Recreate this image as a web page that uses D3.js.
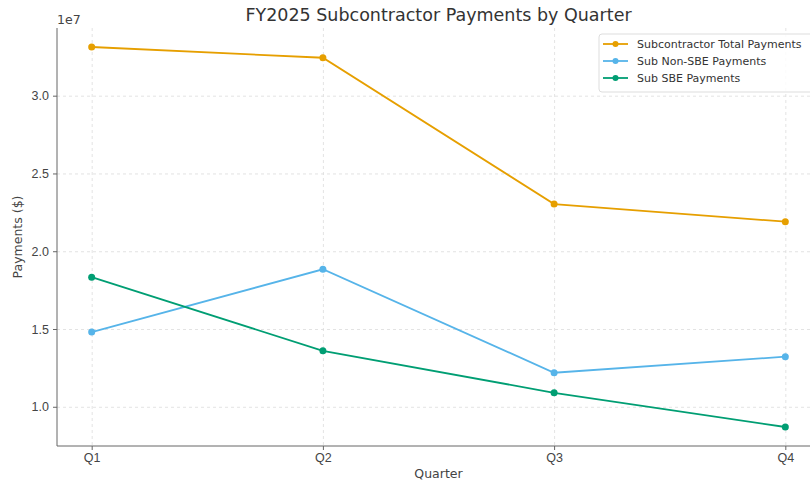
<!DOCTYPE html>
<html>
<head>
<meta charset="utf-8">
<script src="https://cdn.jsdelivr.net/npm/d3@7"></script>
<style>
  body { margin: 0; background: #fff; }
  svg { font-family: "DejaVu Sans", sans-serif; display: block; }
  .grid line { stroke: #dcdcdc; stroke-dasharray: 3,3; stroke-width: 0.8; }
  .grid .domain { display: none; }
  .axis .domain, .axis line { stroke: #666; }
  .axis text { fill: #444; font-size: 12.5px; }
</style>
</head>
<body>
<div id="chart"></div>
<script>
// Data
const quarters = ['Q1', 'Q2', 'Q3', 'Q4'];
const totalPayments = [33130000, 32440000, 23030000, 21900000];
const nonSbePayments = [14800000, 18840000, 12190000, 13220000];
const sbePayments = [18330000, 13600000, 10900000, 8700000];
const yTicks = [10000000, 15000000, 20000000, 25000000, 30000000];

const series = [
    { name: 'Subcontractor Total Payments', values: totalPayments, color: '#E69F00' },
    { name: 'Sub Non-SBE Payments', values: nonSbePayments, color: '#56B4E9' },
    { name: 'Sub SBE Payments', values: sbePayments, color: '#009E73' }
];

const W = 810, H = 484;
const margin = { top: 28, right: -10, bottom: 38, left: 57 };
const width = W - margin.left - margin.right;
const height = H - margin.top - margin.bottom;

const svg = d3.select('#chart').append('svg')
    .attr('width', W)
    .attr('height', H);

const g = svg.append('g')
    .attr('transform', `translate(${margin.left},${margin.top})`);

// x: point positions with matplotlib-like 5% margins
const xi = d3.scaleLinear().domain([-0.15, 3.15]).range([0, width]);

const allVals = series.flatMap(s => s.values);
const yMin = d3.min(allVals), yMax = d3.max(allVals);
const pad = (yMax - yMin) * 0.05;
const y = d3.scaleLinear()
    .domain([yMin - pad, yMax + pad])
    .range([height, 0]);

// grid
g.append('g').attr('class', 'grid')
    .call(d3.axisLeft(y).tickValues(yTicks).tickSize(-width).tickFormat(''));
g.append('g').attr('class', 'grid')
    .call(d3.axisBottom(xi).tickValues(d3.range(quarters.length)).tickSize(height).tickFormat(''));

// axes
const xAxis = g.append('g').attr('class', 'axis')
    .attr('transform', `translate(0,${height})`)
    .call(d3.axisBottom(xi).tickValues(d3.range(quarters.length))
        .tickFormat(i => quarters[i]).tickSize(4).tickSizeOuter(0).tickPadding(3));

const yAxis = g.append('g').attr('class', 'axis')
    .call(d3.axisLeft(y).tickValues(yTicks)
        .tickFormat(v => (v / 1e7).toFixed(1)).tickSize(4).tickSizeOuter(0).tickPadding(4));
yAxis.select('.domain').attr('d', `M0,${height}V0`);
xAxis.select('.domain').attr('d', `M0,0H${width}`);

// lines
const line = d3.line()
    .x((d, i) => xi(i))
    .y(d => y(d));

series.forEach(s => {
    g.append('path')
        .datum(s.values)
        .attr('fill', 'none')
        .attr('stroke', s.color)
        .attr('stroke-width', 1.8)
        .attr('d', line);
    g.selectAll(null)
        .data(s.values)
        .enter().append('circle')
        .attr('cx', (d, i) => xi(i))
        .attr('cy', d => y(d))
        .attr('r', 3.5)
        .attr('fill', s.color);
});

// title and labels
svg.append('text')
    .attr('x', margin.left + width / 2)
    .attr('y', 21)
    .attr('text-anchor', 'middle')
    .style('font-size', '17.5px')
    .attr('fill', '#333')
    .text('FY2025 Subcontractor Payments by Quarter');

svg.append('text')
    .attr('x', margin.left)
    .attr('y', 24)
    .style('font-size', '12.5px')
    .attr('fill', '#444')
    .text('1e7');

svg.append('text')
    .attr('x', margin.left + width / 2)
    .attr('y', 478)
    .attr('text-anchor', 'middle')
    .style('font-size', '12.5px')
    .attr('fill', '#444')
    .text('Quarter');

svg.append('text')
    .attr('transform', `translate(22,${margin.top + height / 2}) rotate(-90)`)
    .attr('text-anchor', 'middle')
    .style('font-size', '12.5px')
    .attr('fill', '#444')
    .text('Payments ($)');

// legend
const legend = svg.append('g').attr('transform', 'translate(599,34)');
legend.append('rect')
    .attr('width', 216).attr('height', 58).attr('rx', 3)
    .attr('fill', 'rgba(255,255,255,0.85)')
    .attr('stroke', '#ddd');
series.forEach((s, i) => {
    const row = legend.append('g').attr('transform', `translate(0,${10 + i * 17})`);
    row.append('line').attr('x1', 4).attr('x2', 29).attr('stroke', s.color).attr('stroke-width', 1.8);
    row.append('circle').attr('cx', 16.5).attr('r', 3).attr('fill', s.color);
    row.append('text').attr('x', 38).attr('dy', '0.35em')
        .style('font-size', '11px').attr('fill', '#333').text(s.name);
});
</script>
</body>
</html>
